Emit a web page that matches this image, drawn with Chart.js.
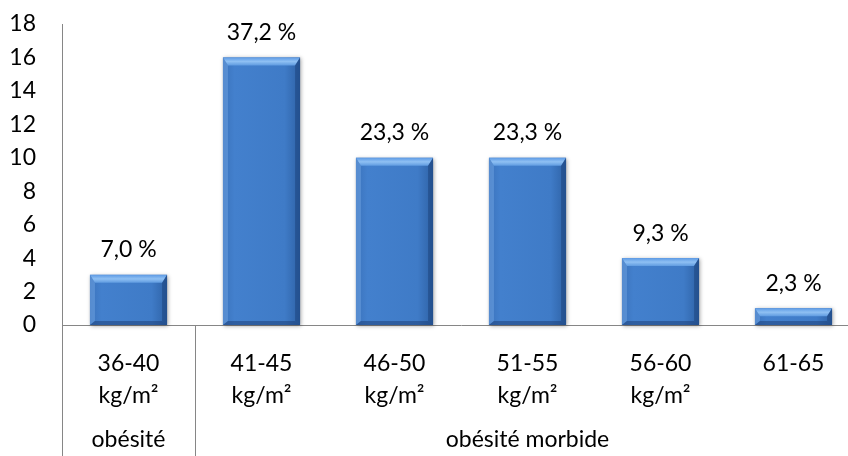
<!DOCTYPE html>
<html>
<head>
<meta charset="utf-8">
<script src="https://cdn.jsdelivr.net/npm/chart.js@4.4.1/dist/chart.umd.min.js"></script>
<style>
  html, body { margin: 0; padding: 0; background: #fff; overflow: hidden; }
  #wrap { width: 860px; height: 456px; }
</style>
</head>
<body>
<div id="wrap"><canvas id="chart"></canvas></div>
<script>
const categories = [
  ['36-40', 'kg/m²'],
  ['41-45', 'kg/m²'],
  ['46-50', 'kg/m²'],
  ['51-55', 'kg/m²'],
  ['56-60', 'kg/m²'],
  ['61-65']
];
const counts = [3, 16, 10, 10, 4, 1];
const percentLabels = ['7,0 %', '37,2 %', '23,3 %', '23,3 %', '9,3 %', '2,3 %'];
const groupLabels = ['obésité', 'obésité morbide'];
const groupSizes = [1, 5];
const yMax = 18;
const yStep = 2;

const FONT = 'Lato, "Open Sans", sans-serif';
const FSIZE = 23;
const AXIS = '#868686';

// bevelled look on each bar: light top edge, darker right/bottom edges
const bevelBars = {
  id: 'bevelBars',
  afterDatasetsDraw(chart) {
    const ctx = chart.ctx;
    chart.getDatasetMeta(0).data.forEach((bar, i) => {
      const { x, y, base, width } = bar.getProps(['x', 'y', 'base', 'width'], true);
      const l = x - width / 2, r = x + width / 2, t = y, b = base;
      const h = b - t;
      const bt = Math.min(8, h / 2), bs = Math.min(5, width / 4), bb = Math.min(4, h / 3);

      ctx.save();
      // soft shadow under the body
      ctx.shadowColor = 'rgba(0,0,0,0.35)';
      ctx.shadowBlur = 4;
      ctx.shadowOffsetX = 1;
      ctx.shadowOffsetY = 1;
      const g = ctx.createLinearGradient(l, 0, r, 0);
      g.addColorStop(0, '#3b73bc');
      g.addColorStop(0.15, '#4380cd');
      g.addColorStop(0.8, '#3f7bc7');
      g.addColorStop(1, '#2e62a6');
      ctx.fillStyle = g;
      ctx.fillRect(l, t, width, h);
      ctx.shadowColor = 'transparent';

      // top bevel
      const gt = ctx.createLinearGradient(0, t, 0, t + bt);
      gt.addColorStop(0, '#5d9ae4');
      gt.addColorStop(0.5, '#8fc0f3');
      gt.addColorStop(1, '#5f9be0');
      ctx.fillStyle = gt;
      ctx.beginPath();
      ctx.moveTo(l, t); ctx.lineTo(r, t); ctx.lineTo(r - bs, t + bt); ctx.lineTo(l + bs, t + bt);
      ctx.closePath(); ctx.fill();

      // left bevel
      ctx.fillStyle = 'rgba(120,170,230,0.45)';
      ctx.beginPath();
      ctx.moveTo(l, t); ctx.lineTo(l + bs, t + bt); ctx.lineTo(l + bs, b - bb); ctx.lineTo(l, b);
      ctx.closePath(); ctx.fill();

      // right bevel
      ctx.fillStyle = 'rgba(25,60,115,0.45)';
      ctx.beginPath();
      ctx.moveTo(r, t); ctx.lineTo(r - bs, t + bt); ctx.lineTo(r - bs, b - bb); ctx.lineTo(r, b);
      ctx.closePath(); ctx.fill();

      // bottom bevel
      ctx.fillStyle = 'rgba(25,60,115,0.5)';
      ctx.beginPath();
      ctx.moveTo(l, b); ctx.lineTo(l + bs, b - bb); ctx.lineTo(r - bs, b - bb); ctx.lineTo(r, b);
      ctx.closePath(); ctx.fill();

      // value text above the bar
      ctx.fillStyle = '#000';
      ctx.font = FSIZE + 'px ' + FONT;
      ctx.textAlign = 'center';
      ctx.textBaseline = 'middle';
      ctx.fillText(percentLabels[i], x, t - 25);
      ctx.restore();
    });
  }
};

// second category row: group names and the lines that box them in
const groupRow = {
  id: 'groupRow',
  afterDraw(chart) {
    const ctx = chart.ctx;
    const xs = chart.scales.x;
    const area = chart.chartArea;
    const step = (area.right - area.left) / categories.length;
    const edge = i => xs.getPixelForValue(i) - step / 2;
    const bottom = chart.height;

    ctx.save();
    ctx.strokeStyle = AXIS;
    ctx.lineWidth = 1;
    ctx.beginPath();
    let start = 0;
    groupSizes.forEach((n, gi) => {
      const x0 = edge(start);
      const x1 = edge(start + n);
      const px = Math.round(x0) + 0.5;
      ctx.moveTo(px, area.bottom);
      ctx.lineTo(px, bottom);

      ctx.fillStyle = '#000';
      ctx.font = FSIZE + 'px ' + FONT;
      ctx.textAlign = 'center';
      ctx.textBaseline = 'middle';
      ctx.fillText(groupLabels[gi], (x0 + x1) / 2, 440);
      start += n;
    });
    ctx.stroke();
    ctx.restore();
  }
};

new Chart(document.getElementById('chart'), {
  type: 'bar',
  data: {
    labels: categories,
    datasets: [{
      data: counts,
      backgroundColor: 'rgba(0,0,0,0)',
      borderWidth: 0,
      categoryPercentage: 1,
      barPercentage: 0.58
    }]
  },
  options: {
    responsive: true,
    maintainAspectRatio: false,
    animation: false,
    layout: { padding: { top: 24, left: 0, right: 0, bottom: 0 } },
    plugins: { legend: { display: false }, tooltip: { enabled: false } },
    scales: {
      x: {
        // tick marks are hidden with the grid; tickLength only spaces the labels
        grid: { display: false, drawTicks: true, tickLength: 22 },
        border: { display: true, color: AXIS, width: 1 },
        ticks: {
          color: '#000',
          font: { family: FONT, size: FSIZE, lineHeight: 1.4 },
          padding: 0,
          autoSkip: false,
          maxRotation: 0
        },
        afterFit(scale) { scale.height = 131; }
      },
      y: {
        min: 0,
        max: yMax,
        grid: { display: false, drawTicks: true, tickLength: 26 },
        border: { display: true, color: AXIS, width: 1 },
        ticks: {
          stepSize: yStep,
          color: '#000',
          font: { family: FONT, size: FSIZE },
          padding: 0
        },
        afterFit(scale) { scale.width = 62; }
      }
    }
  },
  plugins: [bevelBars, groupRow]
});
</script>
</body>
</html>
